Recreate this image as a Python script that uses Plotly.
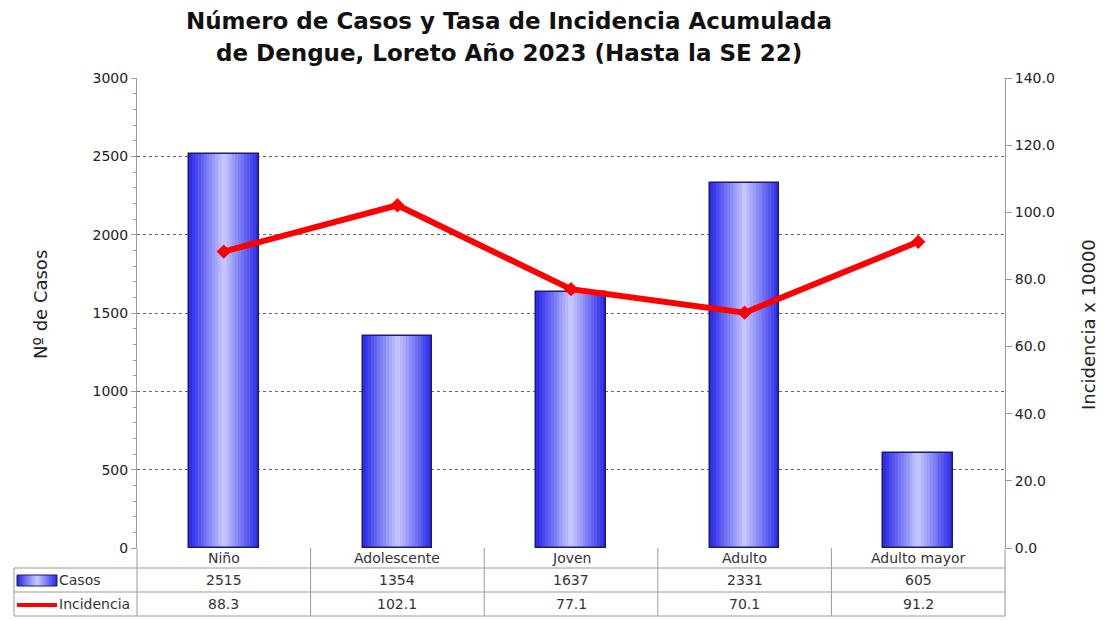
import plotly.graph_objects as go

categorias = ["Niño", "Adolescente", "Joven", "Adulto", "Adulto mayor"]
casos = [2515, 1354, 1637, 2331, 605]
incidencia = [88.3, 102.1, 77.1, 70.1, 91.2]

OFF = 8  # page body margin
W, H = 1107 - OFF, 621 - OFF
# reference pixel positions of plot area
L, R, T, B = 137, 1005, 78, 548
pw, ph = R - L, B - T

def px(x):
    return (x - L) / pw

def py(y):
    return (B - y) / ph

FONT = "DejaVu Sans, Arial"
fig = go.Figure()

n = 12
bw = 0.4
edge = (45, 45, 235)
center = (195, 195, 255)
for i in range(n):
    t = i / (n - 1)
    c = tuple(int(edge[k] + (center[k] - edge[k]) * t) for k in range(3))
    w = bw * (1 - i / n)
    fig.add_trace(go.Bar(x=categorias, y=casos, width=[w] * len(casos),
                         marker=dict(color="rgb(%d,%d,%d)" % c, line=dict(width=0)),
                         showlegend=False, hoverinfo="skip"))
fig.add_trace(go.Bar(x=categorias, y=casos, width=[bw] * len(casos), name="Casos",
                     marker=dict(color="rgba(0,0,0,0)", line=dict(color="#1a1a70", width=1.5)),
                     showlegend=False))

fig.add_trace(go.Scatter(x=categorias, y=incidencia, yaxis="y2", name="Incidencia",
                         mode="lines+markers",
                         line=dict(color="#ff0000", width=6),
                         marker=dict(symbol="diamond", size=11, color="#ff0000"),
                         showlegend=False))

shapes = []
gray = "#9a9a9a"
for yy in (568, 592, 616):
    shapes.append(dict(type="line", xref="paper", yref="paper", x0=px(14), x1=px(R),
                       y0=py(yy), y1=py(yy), line=dict(color=gray, width=1)))
shapes.append(dict(type="line", xref="paper", yref="paper", x0=px(14), x1=px(14),
                   y0=py(568), y1=py(616), line=dict(color=gray, width=1)))
for k in range(len(categorias) + 1):
    xx = L + pw * k / len(categorias)
    shapes.append(dict(type="line", xref="paper", yref="paper", x0=px(xx), x1=px(xx),
                       y0=py(548), y1=py(616), line=dict(color=gray, width=1)))
kx0, kx1, ky0, ky1 = 17, 57, 575, 586
for i in range(n):
    t = i / (n - 1)
    c = tuple(int(edge[k] + (center[k] - edge[k]) * t) for k in range(3))
    half = (kx1 - kx0) / 2 * (1 - i / n)
    mid = (kx0 + kx1) / 2
    shapes.append(dict(type="rect", xref="paper", yref="paper", x0=px(mid - half), x1=px(mid + half),
                       y0=py(ky1), y1=py(ky0), fillcolor="rgb(%d,%d,%d)" % c, line=dict(width=0)))
shapes.append(dict(type="rect", xref="paper", yref="paper", x0=px(kx0), x1=px(kx1),
                   y0=py(ky1), y1=py(ky0), line=dict(color="#1a1a70", width=1)))
shapes.append(dict(type="line", xref="paper", yref="paper", x0=px(17), x1=px(57),
                   y0=py(605), y1=py(605), line=dict(color="#ff0000", width=4)))

ann = []
tf = dict(family=FONT, size=14, color="#333333")
for i, c in enumerate(categorias):
    ann.append(dict(x=c, xref="x", y=py(558), yref="paper", yanchor="middle", xanchor="center",
                    text=c, showarrow=False, font=tf))
    ann.append(dict(x=c, xref="x", y=py(580), yref="paper", yanchor="middle", xanchor="center",
                    text=str(casos[i]), showarrow=False, font=tf))
    ann.append(dict(x=c, xref="x", y=py(604), yref="paper", yanchor="middle", xanchor="center",
                    text="%.1f" % incidencia[i], showarrow=False, font=tf))
ann.append(dict(x=px(57), xref="paper", y=py(580), yref="paper", text="Casos", xanchor="left",
                yanchor="middle", showarrow=False, font=tf))
ann.append(dict(x=px(57), xref="paper", y=py(604), yref="paper", text="Incidencia", xanchor="left",
                yanchor="middle", showarrow=False, font=tf))

titlefont = dict(family=FONT, size=23, color="#111111")
ann.append(dict(x=px(509), xref="paper", y=py(21), yref="paper", showarrow=False,
                xanchor="center", yanchor="middle",
                text="<b>Número de Casos y Tasa de Incidencia Acumulada</b>", font=titlefont))
ann.append(dict(x=px(509), xref="paper", y=py(53), yref="paper", showarrow=False,
                xanchor="center", yanchor="middle",
                text="<b>de Dengue, Loreto Año 2023 (Hasta la SE 22)</b>", font=titlefont))
axt = dict(family=FONT, size=18, color="#222222")
ann.append(dict(x=px(40), xref="paper", y=py(305), yref="paper", showarrow=False, textangle=-90,
                xanchor="center", yanchor="middle", text="Nº de Casos", font=axt))
ann.append(dict(x=px(1088), xref="paper", y=py(325), yref="paper", showarrow=False, textangle=-90,
                xanchor="center", yanchor="middle", text="Incidencia x 10000", font=axt))

axfont = dict(family=FONT, size=14, color="#222222")
fig.update_layout(
    width=W, height=H,
    margin=dict(l=L - OFF, r=W - (R - OFF), t=T - OFF, b=H - (B - OFF), pad=0),
    paper_bgcolor="white", plot_bgcolor="white",
    barmode="overlay", bargap=0,
    xaxis=dict(type="category", range=[-0.5, len(categorias) - 0.5], showticklabels=False,
               showgrid=False, showline=False, zeroline=False, ticks=""),
    yaxis=dict(range=[0, 3000], dtick=500, tickfont=axfont, showgrid=True, gridcolor="#666666",
               griddash="dot", gridwidth=1, showline=True, linecolor=gray, linewidth=1,
               ticks="outside", ticklen=5, tickcolor=gray, zeroline=False,
               minor=dict(dtick=100, ticks="outside", ticklen=3, tickcolor=gray, showgrid=False)),
    yaxis2=dict(range=[0, 140], dtick=20, tickformat=".1f", overlaying="y", side="right",
                tickfont=axfont, showgrid=False, showline=True, linecolor=gray, linewidth=1,
                ticks="outside", ticklen=6, tickcolor=gray, zeroline=False),
    shapes=shapes, annotations=ann,
)

fig.write_html("out.html")
